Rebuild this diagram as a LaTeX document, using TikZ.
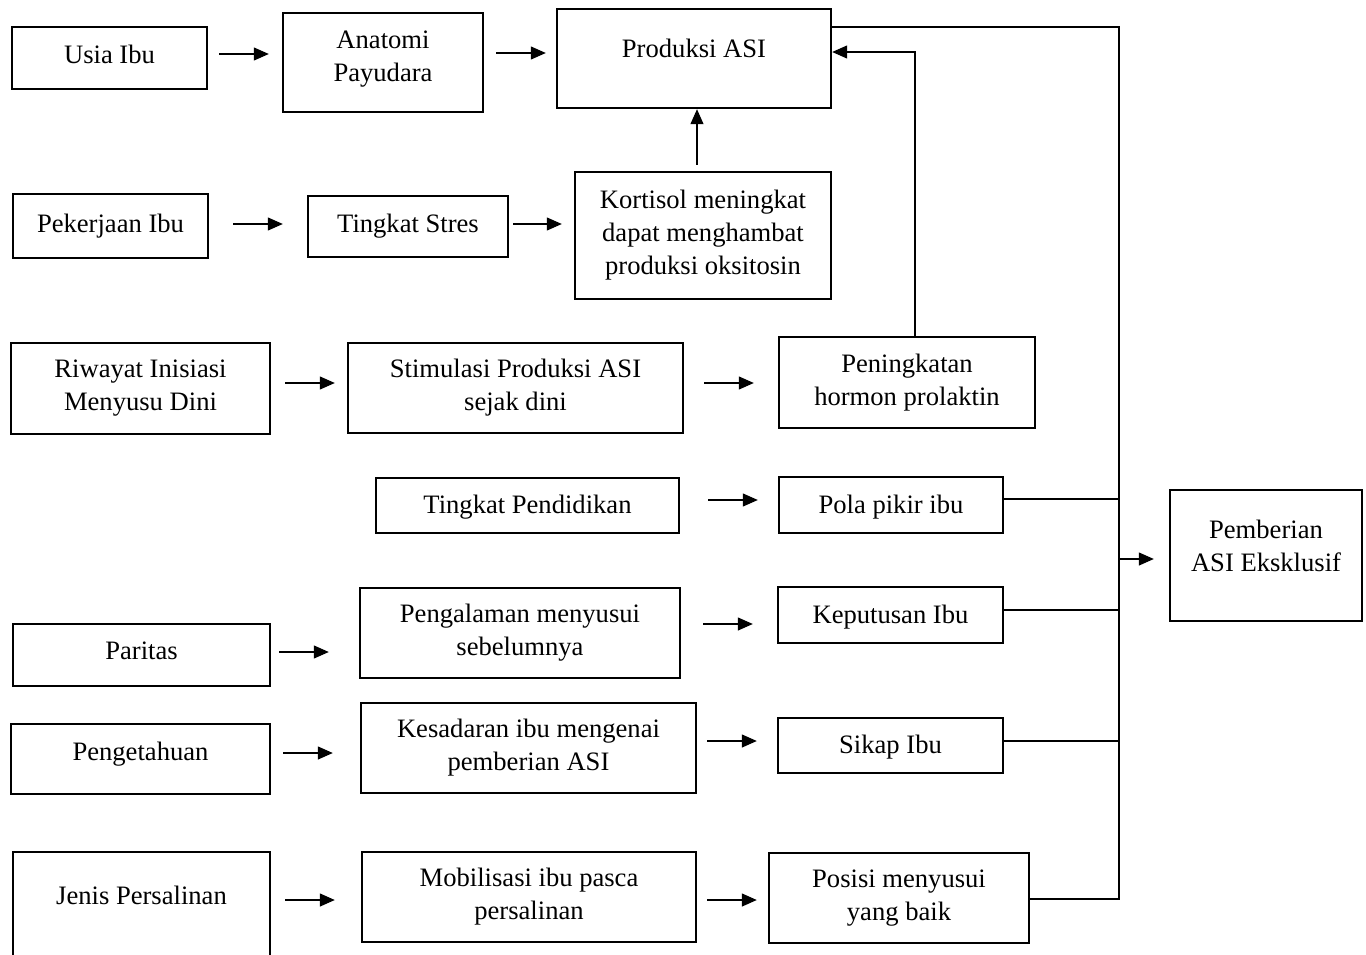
\documentclass[tikz,border=0pt]{standalone}
\usepackage{fontspec}
\setmainfont{Liberation Serif}
\usetikzlibrary{arrows.meta}

\begin{document}
\begin{tikzpicture}[
  x=1pt, y=-1pt,
  box/.style={rectangle, draw=black, line width=2.4pt, align=center,
    inner sep=0pt, font=\fontsize{26.6}{33}\selectfont},
  arr/.style={-{Triangle[length=15pt, width=13pt]}, line width=1.2pt},
  bus/.style={line width=1.1pt}
]
  \useasboundingbox (0,0) rectangle (1366,954);
  \clip (0,0) rectangle (1366,954);

  %% Row 1: usia ibu
  \node[box, minimum width=195pt, minimum height=62pt, text depth=8pt]
    (usia) at (109.5,58) {Usia Ibu};
  \node[box, minimum width=200pt, minimum height=99pt, text depth=12pt]
    (anatomi) at (383,62.5) {Anatomi\\Payudara};
  \node[box, minimum width=274pt, minimum height=99pt, text depth=21pt]
    (produksi) at (694,58.5) {Produksi ASI};

  %% Row 2: pekerjaan ibu
  \node[box, minimum width=195pt, minimum height=64pt]
    (pekerjaan) at (110.5,226) {Pekerjaan Ibu};
  \node[box, minimum width=200pt, minimum height=61pt]
    (stres) at (408,226.5) {Tingkat Stres};
  \node[box, minimum width=256pt, minimum height=127pt]
    (kortisol) at (703,235.5) {Kortisol meningkat\\dapat menghambat\\produksi oksitosin};

  %% Row 3: IMD
  \node[box, minimum width=259pt, minimum height=91pt]
    (riwayat) at (140.5,388.5) {Riwayat Inisiasi\\Menyusu Dini};
  \node[box, minimum width=335pt, minimum height=90pt]
    (stimulasi) at (515.5,388) {Stimulasi Produksi ASI\\sejak dini};
  \node[box, minimum width=256pt, minimum height=91pt]
    (prolaktin) at (907,382.5) {Peningkatan\\hormon prolaktin};

  %% Row 4: pendidikan
  \node[box, minimum width=303pt, minimum height=55pt, text depth=2pt]
    (pendidikan) at (527.5,505.5) {Tingkat Pendidikan};
  \node[box, minimum width=224pt, minimum height=56pt, text depth=2pt]
    (polapikir) at (891,505) {Pola pikir ibu};

  %% Row 5: paritas
  \node[box, minimum width=257pt, minimum height=62pt, text depth=8pt]
    (paritas) at (141.5,655) {Paritas};
  \node[box, minimum width=320pt, minimum height=90pt]
    (pengalaman) at (520,633) {Pengalaman menyusui\\sebelumnya};
  \node[box, minimum width=225pt, minimum height=56pt, text depth=2pt]
    (keputusan) at (890.5,615) {Keputusan Ibu};

  %% Row 6: pengetahuan
  \node[box, minimum width=259pt, minimum height=70pt, text depth=15pt]
    (pengetahuan) at (140.5,759) {Pengetahuan};
  \node[box, minimum width=335pt, minimum height=90pt]
    (kesadaran) at (528.5,748) {Kesadaran ibu mengenai\\pemberian ASI};
  \node[box, minimum width=225pt, minimum height=55pt, text depth=2pt]
    (sikap) at (890.5,745.5) {Sikap Ibu};

  %% Row 7: persalinan
  \node[box, minimum width=257pt, minimum height=148pt, text depth=62pt]
    (jenis) at (141.5,926) {Jenis Persalinan};
  \node[box, minimum width=334pt, minimum height=90pt]
    (mobilisasi) at (529,897) {Mobilisasi ibu pasca\\persalinan};
  \node[box, minimum width=260pt, minimum height=90pt]
    (posisi) at (899,898) {Posisi menyusui\\yang baik};

  %% Outcome
  \node[box, minimum width=192pt, minimum height=131pt, text depth=20pt]
    (pemberian) at (1266,555.5) {Pemberian\\ASI Eksklusif};

  \coordinate (bustop) at (1119,27);
  \coordinate (busbot) at (1119,899);

  %% arrows between the rows
  \draw[arr, shorten <=11pt, shorten >=13pt] (usia.east |- 0,54) -- (anatomi.west |- 0,54);
  \draw[arr, shorten <=12pt, shorten >=10pt] (anatomi.east |- 0,53) -- (produksi.west |- 0,53);
  \draw[arr, shorten <=24pt, shorten >=24pt] (pekerjaan.east |- 0,224) -- (stres.west |- 0,224);
  \draw[arr, shorten <=4pt, shorten >=12pt] (stres.east |- 0,224) -- (kortisol.west |- 0,224);
  \draw[arr, shorten <=6pt] ([xshift=-6pt]kortisol.north) -- ([xshift=3pt]produksi.south);
  \draw[arr, shorten <=14pt, shorten >=12pt] (riwayat.east |- 0,383) -- (stimulasi.west |- 0,383);
  \draw[arr, shorten <=20pt, shorten >=24pt] (stimulasi.east |- 0,383) -- (prolaktin.west |- 0,383);
  \draw[arr] ([xshift=8pt]prolaktin.north) |- ([yshift=6.5pt]produksi.east);
  \draw[arr, shorten <=28pt, shorten >=20pt] (pendidikan.east |- 0,500) -- (polapikir.west |- 0,500);
  \draw[arr, shorten <=8pt, shorten >=30pt] (paritas.east |- 0,652) -- (pengalaman.west |- 0,652);
  \draw[arr, shorten <=22pt, shorten >=24pt] (pengalaman.east |- 0,624) -- (keputusan.west |- 0,624);
  \draw[arr, shorten <=12pt, shorten >=27pt] (pengetahuan.east |- 0,753) -- (kesadaran.west |- 0,753);
  \draw[arr, shorten <=10pt, shorten >=20pt] (kesadaran.east |- 0,741) -- (sikap.west |- 0,741);
  \draw[arr, shorten <=14pt, shorten >=26pt] (jenis.east |- 0,900) -- (mobilisasi.west |- 0,900);
  \draw[arr, shorten <=10pt, shorten >=11pt] (mobilisasi.east |- 0,900) -- (posisi.west |- 0,900);

  %% collecting line
  \draw[bus] (produksi.east |- bustop) -- (bustop) -- (busbot) -- (posisi.east |- busbot);
  \draw[bus] (polapikir.east |- 0,499) -- (bustop |- 0,499);
  \draw[bus] (keputusan.east |- 0,610) -- (bustop |- 0,610);
  \draw[bus] (sikap.east |- 0,741) -- (bustop |- 0,741);
  \draw[arr, shorten >=15pt] (bustop |- 0,559) -- (pemberian.west |- 0,559);
\end{tikzpicture}
\end{document}
